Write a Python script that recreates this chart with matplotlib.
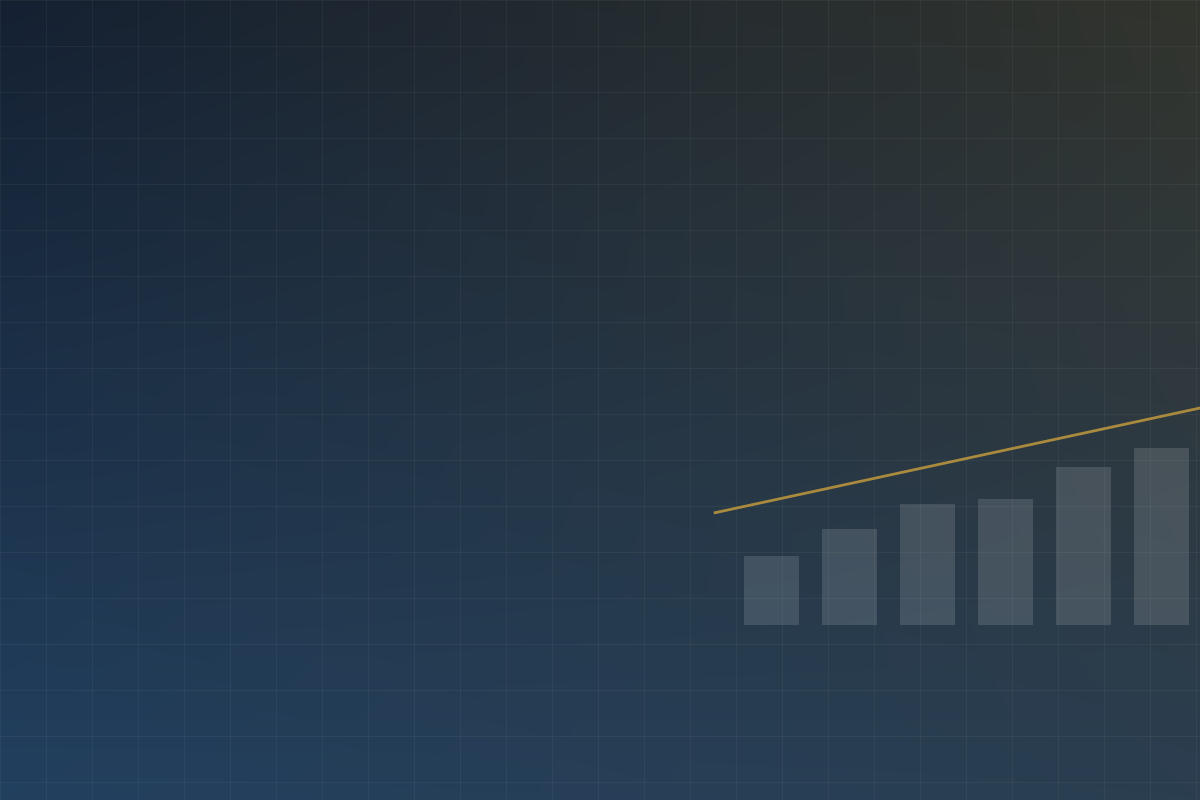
import numpy as np
import matplotlib
matplotlib.use("Agg")
import matplotlib.pyplot as plt

# bar chart values (baseline = 0)
categories = ["A", "B", "C", "D", "E", "F"]
bar_values = [69, 96, 121, 126, 158, 177]

# trend line (two end points, in category index units)
trend_x = [-0.74, 6.0]
trend_y = [112, 225.5]

# background corner colours: top-left, top-right, bottom-left, bottom-right
corner_tl = np.array([21, 33, 50]) / 255
corner_tr = np.array([50, 52, 45]) / 255
corner_bl = np.array([34, 64, 95]) / 255
corner_br = np.array([43, 62, 80]) / 255

GRID_STEP = 46  # px

fig = plt.figure(figsize=(12, 8), dpi=100)

# background gradient
bg = fig.add_axes([0, 0, 1, 1])
h, w = 200, 300
u = np.linspace(0, 1, w)[None, :, None]
v = np.linspace(0, 1, h)[:, None, None]
img = ((1 - u) * (1 - v) * corner_tl + u * (1 - v) * corner_tr
       + (1 - u) * v * corner_bl + u * v * corner_br)
bg.imshow(img, extent=[0, 1200, 800, 0], aspect="auto", interpolation="bilinear")
bg.set_xlim(0, 1200)
bg.set_ylim(800, 0)
bg.set_xticks(np.arange(0, 1201, GRID_STEP))
bg.set_yticks(np.arange(0, 801, GRID_STEP))
bg.grid(True, color="white", alpha=0.045, linewidth=0.9)
bg.tick_params(length=0, labelbottom=False, labelleft=False)
for s in bg.spines.values():
    s.set_visible(False)

# chart layer
ax = fig.add_axes([0, 0, 1, 1])
ax.patch.set_alpha(0)
x = np.arange(len(categories))
ax.bar(x, bar_values, width=55 / 78, color="white", alpha=0.13, linewidth=0)
ax.plot(trend_x, trend_y, color="#a98a3e", linewidth=2.0, solid_capstyle="butt")
ax.set_xlim(-771.5 / 78, (1200 - 771.5) / 78)
ax.set_ylim(-175, 625)
ax.axis("off")

fig.savefig("out.png", dpi=100)
